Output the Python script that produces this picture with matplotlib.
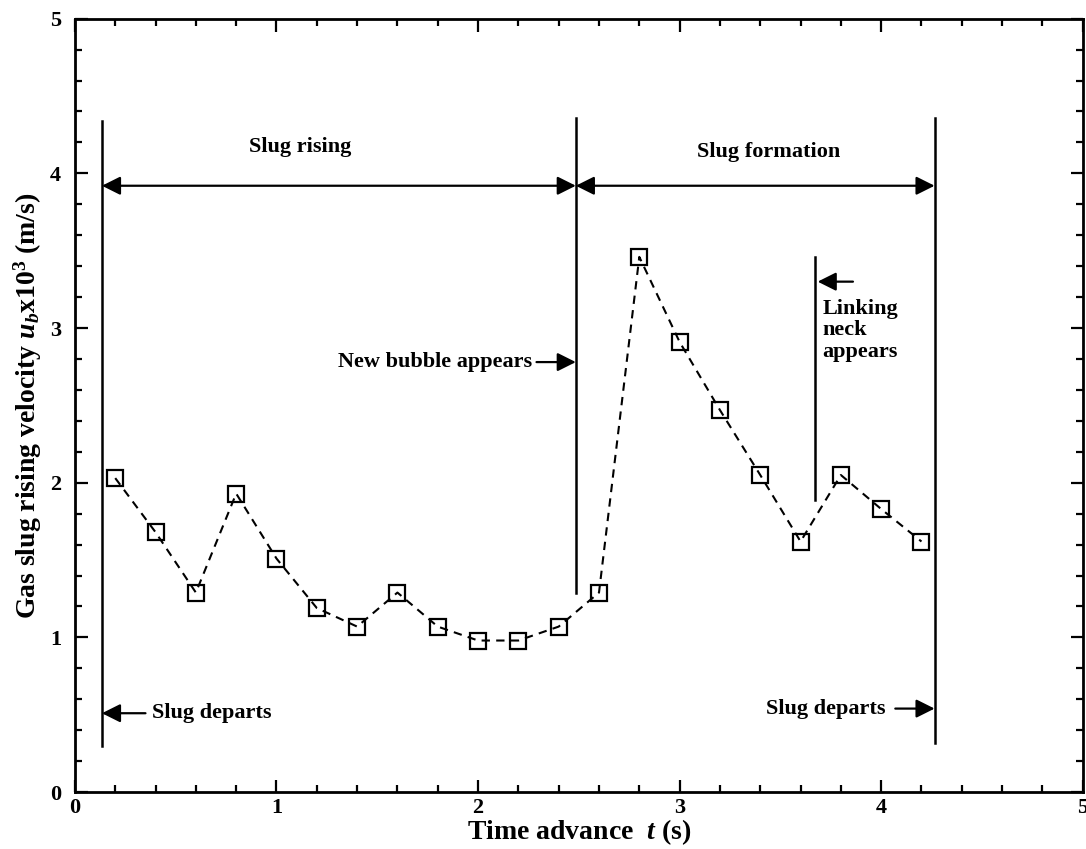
import matplotlib.pyplot as plt
from matplotlib.ticker import MultipleLocator

plt.rcParams['font.family'] = ['Liberation Serif', 'DejaVu Serif']
plt.rcParams['font.weight'] = 'bold'
plt.rcParams['axes.labelweight'] = 'bold'
plt.rcParams['mathtext.fontset'] = 'custom'
plt.rcParams['mathtext.rm'] = 'Liberation Serif:bold'
plt.rcParams['mathtext.it'] = 'Liberation Serif:bold:italic'

# Datos
tiempo = [0.2, 0.4, 0.6, 0.8, 1.0, 1.2, 1.4, 1.6, 1.8, 2.0, 2.2,
          2.4, 2.6, 2.8, 3.0, 3.2, 3.4, 3.6, 3.8, 4.0, 4.2]
velocidad = [2.03, 1.68, 1.29, 1.93, 1.51, 1.19, 1.07, 1.29, 1.07, 0.98, 0.98,
             1.07, 1.29, 3.46, 2.91, 2.47, 2.05, 1.62, 2.05, 1.83, 1.62]

# Lineas verticales (x, y inferior, y superior)
lineas_x = [0.134, 2.485, 4.265, 3.67]
lineas_y0 = [0.30, 1.29, 0.32, 1.89]
lineas_y1 = [4.34, 4.36, 4.36, 3.46]

fig = plt.figure(figsize=(10.86, 8.49), dpi=100)
ax = fig.add_axes([0.069, 0.067, 0.928, 0.911])

ax.plot(tiempo, velocidad, color='black', linestyle=(0, (4, 3)), linewidth=1.5,
        marker='s', markersize=12, markerfacecolor='none',
        markeredgecolor='black', markeredgewidth=1.6)

for x, y0, y1 in zip(lineas_x, lineas_y0, lineas_y1):
    ax.plot([x, x], [y0, y1], color='black', linewidth=1.8)

flecha = dict(arrowstyle='<|-|>', color='black', lw=1.6, mutation_scale=28,
              shrinkA=0, shrinkB=0)
ax.annotate('', xy=(lineas_x[0], 3.92), xytext=(lineas_x[1], 3.92), arrowprops=flecha)
ax.annotate('', xy=(lineas_x[1], 3.92), xytext=(lineas_x[2], 3.92), arrowprops=flecha)

simple = dict(arrowstyle='-|>', color='black', lw=1.6, mutation_scale=28,
              shrinkA=0, shrinkB=0)
ax.annotate('', xy=(lineas_x[0], 0.51), xytext=(0.35, 0.51), arrowprops=simple)
ax.annotate('', xy=(lineas_x[2], 0.54), xytext=(4.07, 0.54), arrowprops=simple)
ax.annotate('', xy=(lineas_x[1], 2.78), xytext=(2.29, 2.78), arrowprops=simple)
ax.annotate('', xy=(3.685, 3.30), xytext=(3.86, 3.30), arrowprops=simple)

fs = 16
ax.text(1.12, 4.17, 'Slug rising', ha='center', va='center', fontsize=fs)
ax.text(3.44, 4.14, 'Slug formation', ha='center', va='center', fontsize=fs)
ax.text(0.38, 0.51, 'Slug departs', ha='left', va='center', fontsize=fs)
ax.text(4.02, 0.54, 'Slug departs', ha='right', va='center', fontsize=fs)
ax.text(2.27, 2.78, 'New bubble appears', ha='right', va='center', fontsize=fs)
ax.text(3.71, 3.19, 'Linking\nneck\nappears', ha='left', va='top', fontsize=fs,
        linespacing=1.12)

ax.set_xlim(0, 5)
ax.set_ylim(0, 5)
ax.xaxis.set_major_locator(MultipleLocator(1))
ax.xaxis.set_minor_locator(MultipleLocator(0.2))
ax.yaxis.set_major_locator(MultipleLocator(1))
ax.yaxis.set_minor_locator(MultipleLocator(0.2))
ax.tick_params(which='both', direction='in', top=True, right=True, width=1.6,
               labelsize=16)
ax.tick_params(axis='x', pad=4)
ax.tick_params(axis='y', pad=10)
ax.tick_params(which='major', length=9)
ax.tick_params(which='minor', length=5)
for s in ax.spines.values():
    s.set_linewidth(2)

ax.set_xlabel('Time advance  $t$ (s)', fontsize=20, fontweight='bold', labelpad=0)
ax.set_ylabel('Gas slug rising velocity $u_b$x10$^3$ (m/s)', fontsize=20,
              fontweight='bold', labelpad=4)

fig.savefig('out.png', dpi=100)
